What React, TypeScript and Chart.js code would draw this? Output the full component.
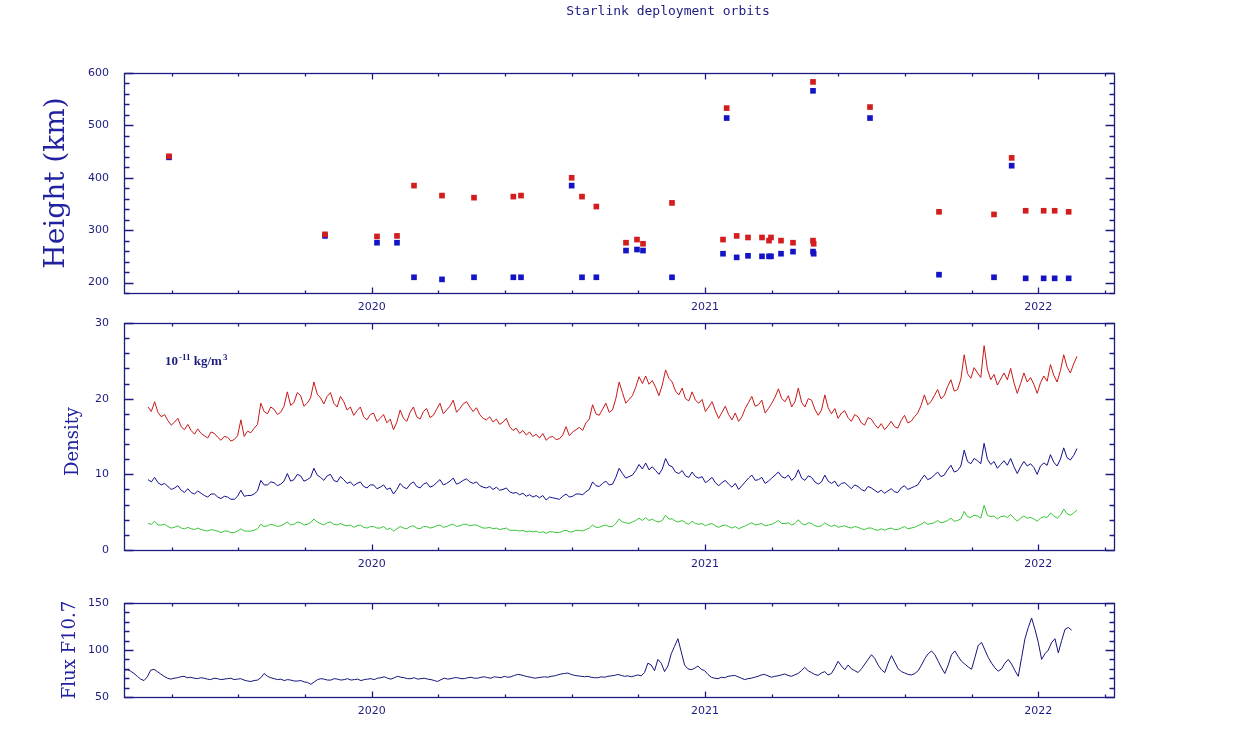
import React, { useEffect, useRef } from 'react';
import Chart from 'chart.js/auto';

// ---- axes ----
const X_MIN = 2019.257;
const X_MAX = 2022.227;
const yearTicks = [2020, 2021, 2022];
const heightTicks = [200, 300, 400, 500, 600];
const densityTicks = [0, 10, 20, 30];
const fluxTicks = [50, 100, 150];

// ---- launches: orbit heights (km) ----
const launchYears = [
  2019.392, 2019.86, 2020.016, 2020.076, 2020.127, 2020.211, 2020.307, 2020.425, 2020.448, 2020.6,
  2020.631, 2020.674, 2020.763, 2020.796, 2020.814, 2020.901, 2021.054, 2021.065, 2021.095, 2021.129,
  2021.171, 2021.192, 2021.198, 2021.228, 2021.264, 2021.324, 2021.324, 2021.326, 2021.495, 2021.702,
  2021.867, 2021.92, 2021.962, 2022.016, 2022.049, 2022.091,
];
const upperOrbit = [
  441, 292, 288, 289, 385, 366, 362, 364, 366, 400,
  364, 345, 276, 282, 274, 352, 282, 533, 289, 286,
  286, 280, 286, 280, 276, 583, 280, 274, 535, 335,
  330, 438, 337, 337, 337, 335,
];
const lowerOrbit = [
  439, 289, 276, 276, 210, 206, 210, 210, 210, 385,
  210, 210, 261, 263, 261, 210, 255, 514, 248, 251,
  250, 250, 250, 255, 259, 566, 259, 255, 514, 215,
  210, 423, 208, 208, 208, 208,
];

// ---- density (1e-11 kg/m3), regular samples ----
const densityStart = 2019.329;
const densityEnd = 2022.116;
const densityHigh = [
  18.9, 18.3, 19.6, 18.2, 17.6, 17.9, 17.1, 16.5, 16.9, 17.4,
  16.3, 15.9, 16.6, 15.8, 15.3, 16.0, 15.4, 15.1, 14.8, 15.6,
  15.4, 14.9, 14.5, 15.0, 14.9, 14.4, 14.6, 15.1, 17.2, 15.0,
  15.7, 15.5, 16.1, 16.6, 19.4, 18.3, 18.0, 18.9, 18.6, 17.9,
  18.2, 19.0, 20.9, 19.1, 19.5, 20.8, 20.4, 19.0, 19.4, 20.1,
  22.2, 20.6, 20.1, 19.3, 20.3, 20.8, 19.4, 18.9, 20.3, 19.6,
  18.5, 18.9, 17.8, 18.4, 18.9, 17.6, 17.2, 17.9, 18.1, 17.0,
  17.4, 17.9, 16.8, 17.3, 15.9, 16.9, 18.5, 17.4, 17.0, 18.2,
  18.9, 17.6, 17.3, 18.3, 18.7, 17.5, 17.8, 18.6, 19.4, 18.0,
  18.5, 19.0, 19.8, 18.2, 18.7, 19.3, 19.6, 18.9, 18.3, 18.8,
  17.9, 17.4, 17.2, 17.6, 16.9, 17.3, 16.6, 16.9, 17.4, 16.3,
  15.8, 16.1, 15.4, 15.8, 15.2, 15.6, 15.0, 15.3, 14.8, 15.4,
  14.5, 14.9, 15.0, 14.6, 14.7, 15.2, 16.3, 15.1, 15.6, 15.9,
  16.2, 15.8, 16.8, 17.3, 19.2, 18.0, 17.8, 18.6, 19.4, 18.2,
  18.5, 20.0, 22.2, 20.8, 19.4, 19.9, 20.4, 21.5, 22.9, 22.0,
  23.0, 21.9, 22.4, 21.5, 20.4, 21.8, 23.8, 22.7, 22.2, 21.0,
  20.5, 21.4, 20.0, 19.7, 20.9, 19.8, 19.4, 19.9, 18.3, 18.9,
  19.6, 18.4, 17.4, 18.2, 19.0, 17.9, 17.2, 18.1, 17.0, 17.6,
  18.7, 19.5, 20.3, 19.0, 19.2, 19.8, 18.1, 18.7, 19.4, 20.2,
  21.3, 20.0, 19.6, 20.4, 18.9, 19.6, 21.4, 19.5, 18.9, 20.0,
  19.8, 18.6, 17.8, 18.5, 20.5, 18.8, 18.0, 18.7, 17.4, 18.1,
  18.4, 17.5, 17.0, 17.9, 17.6, 16.8, 16.5, 17.5, 17.3, 16.6,
  16.1, 16.7, 15.9, 16.4, 17.0, 16.3, 16.1, 17.1, 17.8, 16.8,
  17.0, 17.6, 18.1, 19.1, 20.5, 19.2, 19.6, 20.4, 21.2, 20.0,
  20.4, 21.6, 22.5, 21.0, 21.2, 22.6, 25.8, 23.3, 22.7, 24.1,
  23.4, 22.8, 27.0, 23.9, 22.5, 23.2, 21.8, 22.6, 23.4, 22.5,
  24.0, 22.1, 20.7, 22.0, 23.4, 22.2, 22.8, 21.9, 20.7, 22.1,
  23.0, 22.3, 24.5, 23.1, 22.2, 23.7, 25.8, 24.2, 23.4, 24.6,
  25.6,
];
const densityMid = [
  9.3, 9.0, 9.6, 8.9, 8.6, 8.8, 8.4, 8.0, 8.2, 8.5,
  7.9, 7.6, 8.1, 7.6, 7.4, 7.8, 7.5, 7.2, 7.0, 7.4,
  7.4, 7.0, 6.8, 7.1, 7.0, 6.7, 6.7, 7.1, 7.9, 7.1,
  7.2, 7.2, 7.4, 7.8, 9.2, 8.6, 8.6, 9.0, 8.9, 8.5,
  8.7, 9.1, 10.1, 9.1, 9.3, 10.0, 9.8, 9.1, 9.3, 9.6,
  10.8, 9.9, 9.6, 9.2, 9.8, 10.0, 9.2, 9.0, 9.7, 9.3,
  8.8, 9.0, 8.5, 8.8, 9.0, 8.4, 8.2, 8.6, 8.6, 8.1,
  8.3, 8.6, 8.0, 8.2, 7.4, 8.0, 8.8, 8.3, 8.1, 8.7,
  9.0, 8.4, 8.2, 8.7, 8.9, 8.3, 8.5, 8.9, 9.3, 8.6,
  8.8, 9.1, 9.5, 8.7, 8.9, 9.2, 9.4, 9.0, 8.8, 9.0,
  8.5, 8.3, 8.2, 8.4, 8.0, 8.3, 7.9, 8.0, 8.2, 7.7,
  7.5, 7.6, 7.3, 7.5, 7.1, 7.3, 7.0, 7.2, 6.9, 7.2,
  6.6, 7.0, 6.9, 6.8, 6.7, 7.1, 7.4, 7.0, 7.1, 7.4,
  7.4, 7.3, 7.7, 8.0, 9.0, 8.5, 8.4, 8.8, 9.1, 8.6,
  8.7, 9.6, 10.8, 10.1, 9.5, 9.7, 9.9, 10.5, 11.3, 10.7,
  11.5, 10.6, 11.0, 10.5, 10.0, 10.7, 12.1, 11.2, 11.0, 10.3,
  10.1, 10.5, 9.8, 9.6, 10.3, 9.7, 9.5, 9.7, 8.9, 9.2,
  9.6, 8.9, 8.5, 8.9, 9.2, 8.7, 8.3, 8.8, 8.0, 8.5,
  9.0, 9.5, 9.9, 9.2, 9.3, 9.6, 8.8, 9.1, 9.5, 9.9,
  10.3, 9.7, 9.5, 9.9, 9.2, 9.6, 10.6, 9.5, 9.2, 9.8,
  9.6, 9.0, 8.7, 9.0, 9.9, 9.1, 8.8, 9.1, 8.4, 8.8,
  8.9, 8.5, 8.1, 8.6, 8.4, 8.0, 7.8, 8.4, 8.2, 7.9,
  7.6, 7.9, 7.5, 7.8, 8.1, 7.7, 7.6, 8.2, 8.5, 8.0,
  8.2, 8.4, 8.6, 9.3, 9.9, 9.3, 9.5, 9.9, 10.3, 9.7,
  9.9, 10.6, 11.2, 10.3, 10.5, 11.1, 13.2, 11.7, 11.4, 12.1,
  11.8, 11.4, 14.1, 12.0, 11.3, 11.7, 10.8, 11.3, 11.8, 11.2,
  12.1, 11.0, 10.1, 11.0, 11.7, 11.1, 11.4, 10.9, 10.0, 11.1,
  11.5, 11.2, 12.6, 11.6, 11.1, 12.0, 13.5, 12.2, 11.9, 12.5,
  13.4,
];
const densityLow = [
  3.5, 3.4, 3.8, 3.3, 3.3, 3.4, 3.1, 2.9, 3.0, 3.2,
  2.9, 2.8, 3.0, 2.8, 2.7, 2.9, 2.7, 2.6, 2.5, 2.7,
  2.6, 2.5, 2.3, 2.5, 2.5, 2.3, 2.3, 2.5, 2.8, 2.5,
  2.5, 2.5, 2.6, 2.8, 3.4, 3.1, 3.2, 3.4, 3.3, 3.1,
  3.2, 3.4, 3.7, 3.3, 3.4, 3.7, 3.6, 3.3, 3.4, 3.6,
  4.1, 3.7, 3.5, 3.3, 3.6, 3.7, 3.4, 3.3, 3.5, 3.3,
  3.2, 3.3, 3.0, 3.2, 3.3, 3.0, 2.9, 3.1, 3.1, 2.9,
  2.9, 3.1, 2.7, 2.9, 2.5, 2.8, 3.1, 2.9, 2.8, 3.1,
  3.2, 2.9, 2.8, 3.1, 3.1, 2.9, 3.0, 3.2, 3.3, 3.0,
  3.1, 3.3, 3.4, 3.1, 3.2, 3.4, 3.4, 3.2, 3.3, 3.3,
  3.1, 2.9, 2.9, 3.0, 2.8, 2.9, 2.7, 2.8, 2.9, 2.6,
  2.6, 2.6, 2.5, 2.6, 2.4, 2.5, 2.4, 2.5, 2.3, 2.4,
  2.2, 2.4, 2.4, 2.3, 2.3, 2.5, 2.6, 2.4, 2.4, 2.6,
  2.6, 2.5, 2.7, 2.9, 3.3, 3.0, 3.0, 3.2, 3.3, 3.1,
  3.1, 3.5, 4.1, 3.7, 3.6, 3.5, 3.7, 3.9, 4.2, 3.9,
  4.3, 3.9, 4.1, 3.8, 3.7, 3.9, 4.6, 4.1, 4.1, 3.8,
  3.7, 3.9, 3.6, 3.4, 3.8, 3.5, 3.4, 3.5, 3.2, 3.4,
  3.5, 3.2, 3.0, 3.2, 3.3, 3.1, 2.9, 3.1, 2.8, 3.0,
  3.2, 3.4, 3.6, 3.3, 3.4, 3.5, 3.2, 3.3, 3.4, 3.6,
  3.9, 3.5, 3.5, 3.6, 3.3, 3.5, 4.0, 3.5, 3.3, 3.6,
  3.5, 3.2, 3.1, 3.2, 3.6, 3.3, 3.1, 3.3, 3.0, 3.1,
  3.2, 3.0, 2.9, 3.1, 3.0, 2.8, 2.7, 2.9, 2.9, 2.7,
  2.6, 2.8, 2.6, 2.8, 2.9, 2.7, 2.7, 2.9, 3.1, 2.8,
  2.9, 3.0, 3.2, 3.4, 3.7, 3.4, 3.5, 3.6, 3.9, 3.6,
  3.7, 3.9, 4.2, 3.8, 3.9, 4.1, 5.1, 4.4, 4.3, 4.6,
  4.5, 4.2, 5.9, 4.6, 4.4, 4.5, 4.1, 4.4, 4.5, 4.3,
  4.7, 4.2, 3.8, 4.2, 4.5, 4.2, 4.3, 4.1, 3.8, 4.2,
  4.4, 4.3, 4.9, 4.5, 4.2, 4.6, 5.4, 4.8, 4.6, 4.9,
  5.3,
];

// ---- solar flux F10.7, regular samples ----
const fluxStart = 2019.257;
const fluxEnd = 2022.1;
const fluxF107 = [
  78.5, 79.0, 77.5, 75.0, 72.0, 69.0, 67.5, 71.5, 78.5, 79.5,
  77.0, 74.5, 72.0, 70.0, 69.0, 70.0, 70.5, 71.5, 72.0, 70.5,
  71.0, 70.0, 69.5, 70.5, 70.0, 69.0, 68.5, 70.0, 69.5, 68.5,
  69.0, 69.5, 70.0, 68.5, 69.0, 69.5, 68.0, 67.0, 66.5, 67.5,
  68.0, 70.5, 75.0, 72.0, 70.5, 69.5, 68.5, 69.0, 67.5, 68.5,
  68.0, 67.0, 67.0, 67.5, 66.0, 65.5, 63.5, 66.0, 68.5, 69.5,
  69.0, 68.0, 68.0, 69.5, 69.0, 68.0, 68.5, 69.5, 68.0, 68.5,
  69.0, 67.5, 68.5, 69.0, 69.5, 68.5, 70.0, 70.5, 71.5, 70.0,
  69.0, 70.5, 72.0, 71.0, 70.5, 69.5, 69.5, 70.5, 69.0, 69.5,
  70.0, 69.0, 68.5, 67.5, 66.5, 68.5, 70.0, 69.0, 69.5, 70.5,
  70.5, 69.5, 69.5, 70.5, 71.0, 70.0, 70.0, 71.0, 71.5, 70.5,
  70.0, 71.5, 71.0, 70.5, 72.0, 71.0, 71.5, 73.0, 74.0, 73.5,
  72.5, 71.5, 71.0, 70.0, 70.5, 71.0, 71.5, 71.0, 72.0, 72.5,
  73.5, 74.5, 75.0, 75.5, 74.0, 73.0, 72.5, 72.0, 71.5, 72.0,
  71.0, 70.5, 70.5, 71.5, 71.0, 72.0, 72.5, 73.0, 74.0, 73.0,
  72.0, 72.5, 71.5, 72.5, 73.5, 72.5, 76.0, 86.0, 84.0, 78.0,
  90.0, 86.0, 77.0, 83.0, 96.0, 104.0, 112.0, 98.0, 84.0, 80.0,
  79.0, 80.5, 83.0, 79.5, 78.0, 74.0, 71.0, 70.0, 69.5, 71.0,
  70.5, 72.0, 72.5, 73.0, 71.5, 70.0, 68.5, 69.5, 70.0, 71.0,
  72.0, 73.5, 74.0, 72.5, 71.0, 72.0, 72.5, 73.5, 74.5, 73.0,
  72.0, 73.5, 75.0, 78.0, 81.5, 78.0, 76.0, 74.0, 73.0, 75.5,
  77.0, 73.5, 75.0, 81.0, 88.0, 83.0, 79.0, 84.0, 80.0, 78.0,
  76.0, 80.0, 85.0, 90.0, 95.0, 91.0, 84.0, 79.0, 76.0, 86.0,
  94.0, 87.0, 80.0, 77.0, 75.5, 74.0, 73.5, 75.0, 78.0, 84.0,
  91.0, 96.0, 99.0, 95.0, 88.0, 81.0, 75.0, 84.0, 95.0, 99.0,
  93.0, 88.0, 85.0, 82.0, 79.5, 92.0, 105.0, 108.0, 100.0, 92.0,
  86.0, 81.0, 77.5, 80.0, 86.0, 90.0, 85.0, 78.0, 72.0, 92.0,
  112.0, 124.0, 134.0, 122.0, 108.0, 90.0, 96.0, 100.0, 108.0, 112.0,
  97.0, 110.0, 122.0, 124.0, 121.0,
];

const AXIS = '#1c1c80';
const TITLE_BLUE = '#2222a0';
const tickFont = { family: '"DejaVu Sans", sans-serif', size: 11 };

const sampled = (start: number, end: number, values: number[]) =>
  values.map((y, i) => ({ x: start + (i * (end - start)) / (values.length - 1), y }));

type FrameOptions = {
  yMajor: number[];
  yMinor: number;
  xMinor: number;
  yTitle: string;
  yTitleFont: string;
  yTitleX: number;
  yTitleDy?: number;
  caption?: string;
  unitNote?: boolean;
};

// box frame with inward ticks on all four sides, axis title, captions
const framePlugin = {
  id: 'frame',
  afterDraw(chart: any, _args: unknown, o: FrameOptions) {
    const { ctx, chartArea: a } = chart;
    const xs = chart.scales.x;
    const ys = chart.scales.y;
    const L = Math.round(a.left) + 0.5;
    const R = Math.round(a.right) + 0.5;
    const T = Math.round(a.top) + 0.5;
    const B = Math.round(a.bottom) + 0.5;

    ctx.save();
    ctx.strokeStyle = AXIS;
    ctx.lineWidth = 1.3;
    ctx.strokeRect(L, T, R - L, B - T);
    ctx.beginPath();
    for (let k = Math.ceil(xs.min / o.xMinor); k * o.xMinor <= xs.max + 1e-9; k++) {
      const v = k * o.xMinor;
      const px = Math.round(xs.getPixelForValue(v)) + 0.5;
      const len = yearTicks.some((t) => Math.abs(t - v) < 1e-6) ? 6 : 3;
      ctx.moveTo(px, B);
      ctx.lineTo(px, B - len);
      ctx.moveTo(px, T);
      ctx.lineTo(px, T + len);
    }
    for (let k = Math.ceil(ys.min / o.yMinor - 1e-9); k * o.yMinor <= ys.max + 1e-9; k++) {
      const v = k * o.yMinor;
      const py = Math.round(ys.getPixelForValue(v)) + 0.5;
      const len = o.yMajor.some((t) => Math.abs(t - v) < 1e-6) ? 9 : 5;
      ctx.moveTo(L, py);
      ctx.lineTo(L + len, py);
      ctx.moveTo(R, py);
      ctx.lineTo(R - len, py);
    }
    ctx.stroke();

    ctx.save();
    ctx.translate(o.yTitleX, (a.top + a.bottom) / 2 + (o.yTitleDy || 0));
    ctx.rotate(-Math.PI / 2);
    ctx.font = o.yTitleFont;
    ctx.fillStyle = TITLE_BLUE;
    ctx.textAlign = 'center';
    ctx.textBaseline = 'middle';
    ctx.fillText(o.yTitle, 0, 0);
    ctx.restore();

    if (o.caption) {
      ctx.font = '13px "DejaVu Sans Mono", monospace';
      ctx.fillStyle = AXIS;
      ctx.textAlign = 'center';
      ctx.textBaseline = 'middle';
      ctx.fillText(o.caption, 668, 12);
    }

    if (o.unitNote) {
      const big = 'bold 13px "Liberation Serif", serif';
      const small = 'bold 9px "Liberation Serif", serif';
      let x = a.left + 41;
      const y = a.top + 42;
      ctx.fillStyle = AXIS;
      ctx.textAlign = 'left';
      ctx.textBaseline = 'alphabetic';
      ctx.font = big;
      ctx.fillText('10', x, y);
      x += ctx.measureText('10').width + 1;
      ctx.font = small;
      ctx.fillText('-11', x, y - 5);
      x += ctx.measureText('-11').width;
      ctx.font = big;
      ctx.fillText(' kg/m', x, y);
      x += ctx.measureText(' kg/m').width + 1;
      ctx.font = small;
      ctx.fillText('3', x, y - 5);
    }
    ctx.restore();
  },
};

type PanelSpec = {
  plotTop: number;
  xAxisHeight: number;
  yMin: number;
  yMax: number;
  yTicks: number[];
  datasets: any[];
  frame: FrameOptions;
};

function makeConfig(p: PanelSpec): any {
  return {
    type: 'scatter',
    data: { datasets: p.datasets },
    plugins: [framePlugin],
    options: {
      responsive: false,
      animation: false,
      events: [],
      layout: { autoPadding: false, padding: { left: 0, right: 124, top: p.plotTop, bottom: 0 } },
      plugins: { legend: { display: false }, tooltip: { enabled: false }, frame: p.frame },
      scales: {
        x: {
          type: 'linear',
          min: X_MIN,
          max: X_MAX,
          grid: { display: false, drawTicks: false },
          border: { display: false },
          afterBuildTicks: (s: any) => {
            s.ticks = yearTicks.map((value) => ({ value }));
          },
          afterFit: (s: any) => {
            s.height = p.xAxisHeight;
          },
          ticks: {
            color: AXIS,
            font: tickFont,
            padding: 8,
            maxRotation: 0,
            autoSkip: false,
            callback: (v: number) => String(v),
          },
        },
        y: {
          type: 'linear',
          min: p.yMin,
          max: p.yMax,
          grid: { display: false, drawTicks: false },
          border: { display: false },
          afterBuildTicks: (s: any) => {
            s.ticks = p.yTicks.map((value) => ({ value }));
          },
          afterFit: (s: any) => {
            s.width = 124;
          },
          ticks: {
            color: AXIS,
            font: tickFont,
            padding: 15,
            autoSkip: false,
            callback: (v: number) => String(v),
          },
        },
      },
    },
  };
}

const heightConfig = () =>
  makeConfig({
    plotTop: 73,
    xAxisHeight: 27,
    yMin: 180,
    yMax: 600,
    yTicks: heightTicks,
    datasets: [
      {
        data: launchYears.map((x, i) => ({ x, y: upperOrbit[i] })),
        pointStyle: 'rect',
        pointRadius: 4,
        backgroundColor: '#d41e1e',
        borderWidth: 0,
      },
      {
        data: launchYears.map((x, i) => ({ x, y: lowerOrbit[i] })),
        pointStyle: 'rect',
        pointRadius: 4,
        backgroundColor: '#1414c4',
        borderWidth: 0,
      },
    ],
    frame: {
      yMajor: heightTicks,
      yMinor: 20,
      xMinor: 0.2,
      yTitle: 'Height (km)',
      yTitleFont: '28px "DejaVu Serif", serif',
      yTitleX: 57,
      caption: 'Starlink deployment orbits',
    },
  });

const line = (data: { x: number; y: number }[], color: string) => ({
  data,
  showLine: true,
  pointRadius: 0,
  borderColor: color,
  borderWidth: 1,
  tension: 0,
});

const densityConfig = () =>
  makeConfig({
    plotTop: 23,
    xAxisHeight: 30,
    yMin: 0,
    yMax: 30,
    yTicks: densityTicks,
    datasets: [
      line(sampled(densityStart, densityEnd, densityHigh), '#c81818'),
      line(sampled(densityStart, densityEnd, densityMid), '#10108c'),
      line(sampled(densityStart, densityEnd, densityLow), '#36c636'),
    ],
    frame: {
      yMajor: densityTicks,
      yMinor: 2,
      xMinor: 0.2,
      yTitle: 'Density',
      yTitleFont: '18px "DejaVu Serif", serif',
      yTitleX: 73,
      yTitleDy: 5,
      unitNote: true,
    },
  });

const fluxConfig = () =>
  makeConfig({
    plotTop: 28,
    xAxisHeight: 39,
    yMin: 50,
    yMax: 150,
    yTicks: fluxTicks,
    datasets: [line(sampled(fluxStart, fluxEnd, fluxF107), '#14147a')],
    frame: {
      yMajor: fluxTicks,
      yMinor: 10,
      xMinor: 0.2,
      yTitle: 'Flux F10.7',
      yTitleFont: '18px "DejaVu Serif", serif',
      yTitleX: 70,
    },
  });

const Panel: React.FC<{ top: number; height: number; build: () => any }> = ({ top, height, build }) => {
  const canvasRef = useRef<HTMLCanvasElement>(null);

  useEffect(() => {
    if (!canvasRef.current) return;
    const chart = new Chart(canvasRef.current, build());
    return () => {
      chart.destroy();
    };
  }, [build]);

  return (
    <canvas
      ref={canvasRef}
      width={1238}
      height={height}
      style={{ position: 'absolute', left: 0, top, width: 1238, height }}
    />
  );
};

export default function App() {
  useEffect(() => {
    document.body.style.margin = '0';
  }, []);

  return (
    <div style={{ position: 'relative', width: 1238, height: 736, background: '#fff', overflow: 'hidden' }}>
      <Panel top={0} height={320} build={heightConfig} />
      <Panel top={300} height={280} build={densityConfig} />
      <Panel top={575} height={161} build={fluxConfig} />
    </div>
  );
}
